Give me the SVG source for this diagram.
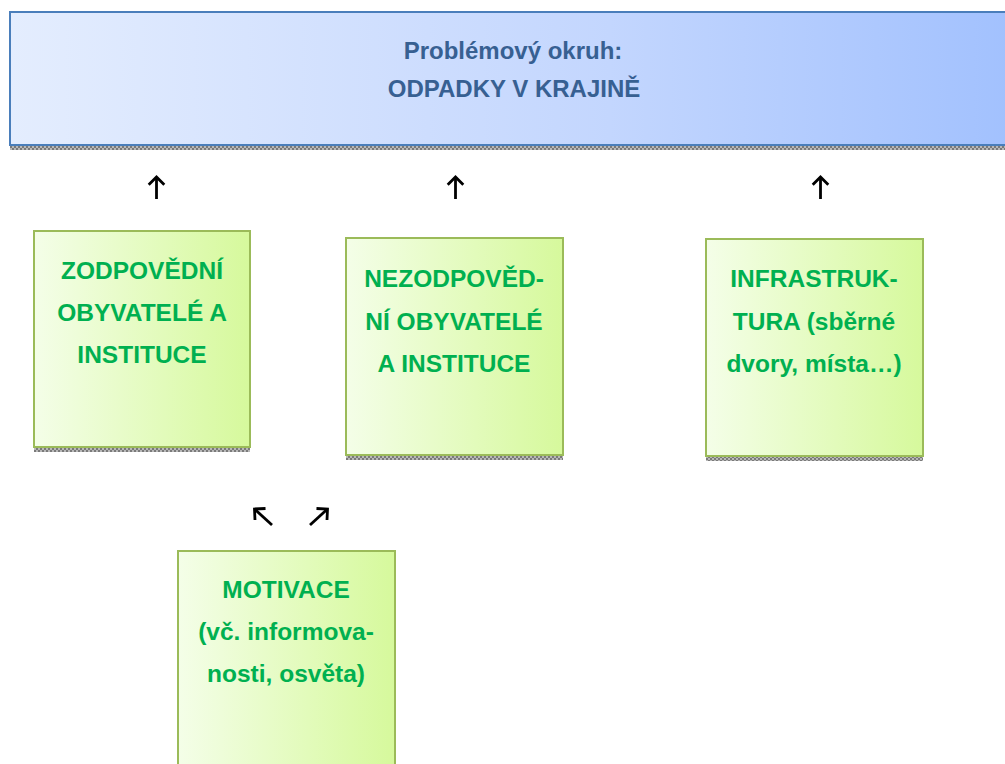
<svg xmlns="http://www.w3.org/2000/svg" width="1005" height="764" viewBox="0 0 1005 764">
<defs>
<linearGradient id="gBlue" x1="0" y1="0" x2="1" y2="0">
<stop offset="0" stop-color="#E4EDFE"/>
<stop offset="0.6" stop-color="#C3D6FE"/>
<stop offset="1" stop-color="#A2C1FE"/>
</linearGradient>
<linearGradient id="gGreen" x1="0" y1="0" x2="1" y2="0">
<stop offset="0" stop-color="#F4FEE8"/>
<stop offset="1" stop-color="#D6F99C"/>
</linearGradient>
<pattern id="hatch" width="4" height="4" patternUnits="userSpaceOnUse">
<rect width="4" height="4" fill="#B8B8B8"/>
<rect width="2" height="2" fill="#7A7A7A"/>
<rect x="2" y="2" width="2" height="2" fill="#7A7A7A"/>
</pattern>
<marker id="ah" viewBox="-12 -12 16 24" refX="0" refY="0" markerWidth="16" markerHeight="24" markerUnits="userSpaceOnUse" orient="auto">
<path d="M-7.8,-7.8 L0,0 L-7.8,7.8" fill="none" stroke="#000" stroke-width="2.8"/>
</marker>
</defs>
<style>
.hdr{fill:url(#gBlue);stroke:#4A7EBB;stroke-width:2}
.box{fill:url(#gGreen);stroke:#9BBB59;stroke-width:2}
.sh{fill:url(#hatch)}
.ht{font-family:"Liberation Sans",Arial,sans-serif;font-weight:bold;font-size:24px;fill:#376092;text-anchor:middle}
.bt{font-family:"Liberation Sans",Arial,sans-serif;font-weight:bold;font-size:24.5px;fill:#00B050;text-anchor:middle}
.ar{stroke:#000;stroke-width:2.8;fill:none}
</style>
<g id="header">
<rect class="sh" x="10" y="145" width="1000" height="5"/>
<rect class="hdr" x="10" y="12" width="1000" height="133"/>
<text class="ht" x="513" y="59">Problémový okruh:</text>
<text class="ht" x="514" y="97">ODPADKY V KRAJINĚ</text>
</g>
<g id="zodpovedni">
<rect class="sh" x="34" y="447" width="216" height="5"/>
<rect class="box" x="34" y="231" width="216" height="216"/>
<text class="bt" x="142" y="279">ZODPOVĚDNÍ</text>
<text class="bt" x="142" y="321">OBYVATELÉ A</text>
<text class="bt" x="142" y="363">INSTITUCE</text>
</g>
<g id="nezodpovedni">
<rect class="sh" x="346" y="455" width="217" height="5"/>
<rect class="box" x="346" y="238" width="217" height="217"/>
<text class="bt" x="454" y="287">NEZODPOVĚD-</text>
<text class="bt" x="454" y="330">NÍ OBYVATELÉ</text>
<text class="bt" x="454" y="372">A INSTITUCE</text>
</g>
<g id="infrastruktura">
<rect class="sh" x="706" y="456" width="217" height="5"/>
<rect class="box" x="706" y="239" width="217" height="217"/>
<text class="bt" x="814" y="287">INFRASTRUK-</text>
<text class="bt" x="814" y="330">TURA (sběrné</text>
<text class="bt" x="814" y="372">dvory, místa…)</text>
</g>
<g id="motivace">
<rect class="box" x="178" y="551" width="217" height="230"/>
<text class="bt" x="286" y="598">MOTIVACE</text>
<text class="bt" x="286" y="640">(vč. informova-</text>
<text class="bt" x="286" y="682">nosti, osvěta)</text>
</g>
<g id="connectors">
<line class="ar" x1="156.5" y1="199" x2="156.5" y2="177" marker-end="url(#ah)"/>
<line class="ar" x1="455.5" y1="199" x2="455.5" y2="177" marker-end="url(#ah)"/>
<line class="ar" x1="820.5" y1="199" x2="820.5" y2="177" marker-end="url(#ah)"/>
<line class="ar" x1="272" y1="525" x2="254.5" y2="509" marker-end="url(#ah)"/>
<line class="ar" x1="310" y1="525" x2="327.5" y2="509" marker-end="url(#ah)"/>
</g>
</svg>
